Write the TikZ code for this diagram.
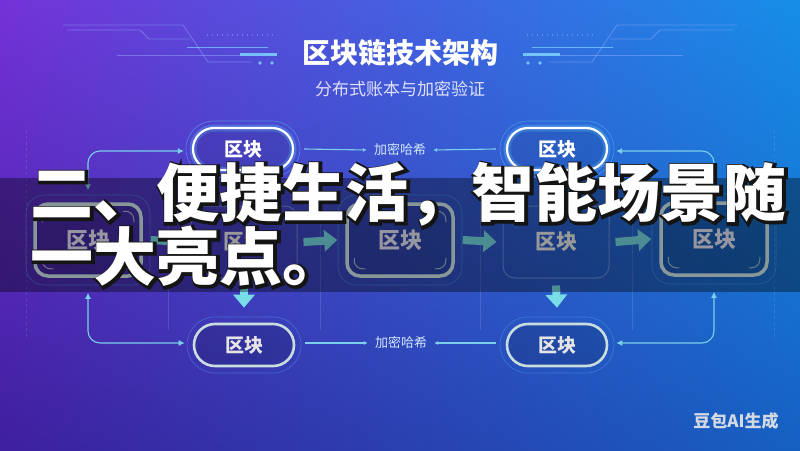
\documentclass[tikz,border=0pt]{standalone}
\usepackage{fontspec}
\setmainfont{Liberation Sans}
\newfontfamily\cjk{Noto Sans CJK SC}
\newfontfamily\cjkstroke{Noto Sans CJK SC}[FakeBold=7]
\usetikzlibrary{arrows.meta,calc,shadings}
\definecolor{bgUL}{HTML}{7432D8}
\definecolor{bgUR}{HTML}{168EE8}
\definecolor{bgLL}{HTML}{3E1F9E}
\definecolor{bgLR}{HTML}{1660C2}
\definecolor{connc}{HTML}{7CCFEA}
\definecolor{tealc}{HTML}{78DDE6}
\definecolor{boxline}{HTML}{D6EEF0}
\definecolor{glowc}{HTML}{5CC8FF}
\definecolor{circ}{HTML}{9AB4FF}
\definecolor{circb}{HTML}{7FD4FF}
\definecolor{dimline}{HTML}{8FB0F0}
\definecolor{lbltxt}{HTML}{D2E8FF}

\tikzset{
  conn/.style={draw=connc, line width=1.1pt},
  pillbase/.style={rounded corners=21pt, minimum width=100pt, minimum height=42pt, inner sep=0pt},
  toppill/.style={pillbase, draw=white, line width=2.2pt, fill=black, fill opacity=0.08, text opacity=1, text=white,
    font=\cjk\bfseries\fontsize{19}{19}\selectfont},
  pillglow/.style={pillbase, draw=glowc, line width=7pt, draw opacity=0.3},
  pillhalo/.style={rounded corners=28pt, minimum width=114pt, minimum height=56pt, inner sep=0pt, draw=glowc, line width=0.6pt, draw opacity=0.5},
  botpill/.style={pillbase, draw=boxline!85!gray, line width=2.6pt, fill=black, fill opacity=0.14, text opacity=1, text=white!80!gray,
    font=\cjk\bfseries\fontsize{19}{19}\selectfont},
  bigblk/.style={rounded corners=13pt, minimum width=106pt, minimum height=72pt, inner sep=0pt, draw=boxline, line width=3.5pt,
    fill=black, fill opacity=0.12, text opacity=1, text=white!92!blue, font=\cjk\bfseries\fontsize{22}{22}\selectfont},
  bighalo/.style={rounded corners=18pt, minimum width=124pt, minimum height=90pt, inner sep=0pt, draw=glowc, line width=0.6pt, draw opacity=0.45},
  dimblk/.style={rounded corners=12pt, minimum width=106pt, minimum height=72pt, inner sep=0pt, draw=dimline, line width=1pt, draw opacity=0.6,
    text=white!88!gray, font=\cjk\bfseries\fontsize{21}{21}\selectfont},
  cornermk/.style={draw=boxline, line width=1pt, opacity=0.7, rounded corners=8pt},
  fatarr/.style={draw=tealc, line width=8pt, -{Triangle[length=13pt,width=21pt]}},
  lbl/.style={text=lbltxt, font=\cjk\fontsize{13}{13}\selectfont, inner sep=1pt},
  bigtxt/.style={anchor=base west, inner sep=0pt, font=\cjk\bfseries\fontsize{63}{63}\selectfont},
  bigshadow/.style={anchor=base west, inner sep=0pt, text=black!92, font=\cjkstroke\bfseries\fontsize{63}{63}\selectfont},
}

\newcommand\bigblock[3]{%
  \node[bighalo] (#1h) at (#2,#3) {};
  \node[bigblk] (#1) at (#2,#3) {区块};
  \draw[cornermk] ($(#1.north west)+(9,20)$) |- ($(#1.north west)+(20,9)$);
  \draw[cornermk] ($(#1.north east)+(-9,20)$) |- ($(#1.north east)+(-20,9)$);
  \draw[cornermk] ($(#1.south west)+(9,-20)$) |- ($(#1.south west)+(20,-9)$);
  \draw[cornermk] ($(#1.south east)+(-9,-20)$) |- ($(#1.south east)+(-20,-9)$);
}
\newcommand\toppillnode[3]{%
  \node[pillglow] (#1g) at (#2,#3) {};
  \node[pillhalo] (#1h) at (#2,#3) {};
  \node[toppill] (#1) at (#2,#3) {区块};
}
\newcommand\botpillnode[3]{%
  \node[pillhalo, draw opacity=0.35] (#1h) at (#2,#3) {};
  \node[botpill] (#1) at (#2,#3) {区块};
}
\newcommand\circuitdeco{%
  \begin{scope}[draw=circ, line width=0.8pt, opacity=0.45]
    \draw (63,25) -- (183,25) -- (208,62) -- (252,62);
    \draw (67,30) -- (140,30) -- (149,39) -- (190,39);
    \draw (117,55) -- (240,55);
  \end{scope}
  \draw[circb, line width=1pt, opacity=0.7] (187,47) -- (268,47);
  \draw[circb, line width=2.2pt, opacity=0.85] (240,54.5) -- (277,54.5);
  \fill[circb, opacity=0.85] (260,63) circle[radius=1.9pt] (272,63) circle[radius=1.9pt];
  \draw[circ, opacity=0.45, line width=1.3pt, dash pattern=on 1pt off 4pt] (207,35) -- (273,35);
}
\newcommand\shadowline[4]{% name, x, y, text
  \node[bigshadow, xshift=1.5pt, yshift=-1.5pt] (#1s) at (#2,#3) {#4};
  \node[bigtxt, text=white] (#1) at (#2,#3) {#4};
}

\begin{document}
\begin{tikzpicture}[x=1pt,y=-1pt]
\useasboundingbox (0,0) rectangle (800,450);
% background
\shade[upper left=bgUL, upper right=bgUR, lower left=bgLL, lower right=bgLR] (0,0) rectangle (800,450);

% circuit decorations
\circuitdeco
\begin{scope}[xshift=800pt, xscale=-1]
  \circuitdeco
\end{scope}

% faint guide lines
\begin{scope}[draw=white, line width=0.6pt, opacity=0.12]
  \draw[dashed] (26,130) -- (26,340);
  \draw[dashed] (774,130) -- (774,340);
  \draw (168,190) -- (168,330);
  \draw (320,190) -- (320,330);
  \draw (480,190) -- (480,330);
  \draw (632,190) -- (632,330);
\end{scope}

% title
\node[text=white, font=\cjk\bfseries\fontsize{28}{28}\selectfont] (title) at (400,53) {区块链技术架构};
\node[text=white!88!blue, font=\cjk\fontsize{17}{17}\selectfont] (subtitle) at (400,89) {分布式账本与加密验证};

% top row
\toppillnode{t1}{243}{149}
\toppillnode{t2}{557}{149}
\node[lbl] (h1) at (400,150) {加密哈希};
\draw[conn, -{Latex[length=4pt,width=4pt]}] ($(t1.east)+(10,0)$) -- ($(h1.west)+(-6,0)$);
\draw[conn, -{Latex[length=4pt,width=4pt]}] ($(t2.west)+(-10,0)$) -- ($(h1.east)+(6,0)$);

% middle row
\bigblock{b1}{88}{240}
\node[dimblk] (b2) at (244,242) {区块};
\bigblock{b3}{400}{240}
\node[dimblk] (b4) at (556,242) {区块};
\bigblock{b5}{714}{239}

\draw[fatarr] ($(b1.east)+(8,0)$) -- ($(b2.west)+(-7,0)$);
\draw[fatarr] ($(b2.east)+(6,0)$) -- ($(b3.west)+(-8,0)$);
\draw[fatarr] ($(b3.east)+(8,0)$) -- ($(b4.west)+(-6,0)$);
\draw[fatarr] ($(b4.east)+(6,0)$) -- ($(b5.west)+(-8,0)$);

% bottom row
\botpillnode{p1}{244}{345}
\botpillnode{p2}{557}{345}
\node[lbl] (h2) at (401,343) {加密哈希};
\draw[conn, -{Latex[length=4pt,width=4pt]}] ($(p1.east)+(10,-2)$) -- ($(h2.west)+(-6,0)$);
\draw[conn, -{Latex[length=4pt,width=4pt]}] ($(p2.west)+(-10,-2)$) -- ($(h2.east)+(6,0)$);

\draw[fatarr] ($(b2.south)+(0,7)$) -- ($(p1.north)+(0,-15)$);
\draw[fatarr] ($(b4.south)+(0,7)$) -- ($(p2.north)+(0,-15)$);

% side connectors
\draw[conn, {Latex[length=6pt,width=6pt]}-{Latex[length=6pt,width=6pt]}, rounded corners=12pt]
  ($(b1.north)+(0,-12)$) |- ($(t1.west)+(-8,2)$);
\draw[conn, {Latex[length=6pt,width=6pt]}-{Latex[length=6pt,width=6pt]}, rounded corners=12pt]
  ($(b1.south)+(0,15)$) |- ($(p1.west)+(-8,-2)$);
\draw[conn, {Latex[length=6pt,width=6pt]}-{Latex[length=6pt,width=6pt]}, rounded corners=12pt]
  ($(t2.east)+(8,2)$) -| ($(b5.north)+(0,-12)$);
\draw[conn, {Latex[length=6pt,width=6pt]}-{Latex[length=6pt,width=6pt]}, rounded corners=12pt]
  ($(p2.east)+(8,-2)$) -| ($(b5.south)+(0,15)$);

% dark band
\fill[black, opacity=0.36] (0,178) rectangle (800,292);

% overlay text
\shadowline{line1}{30}{216}{二、便捷生活，智能场景随}
\shadowline{line2}{30}{280}{一大亮点。}

% watermark
\node[text=white!82!gray, opacity=0.9, font=\cjk\bfseries\fontsize{17}{17}\selectfont] (wm) at (736,421) {豆包AI生成};
\end{tikzpicture}
\end{document}
